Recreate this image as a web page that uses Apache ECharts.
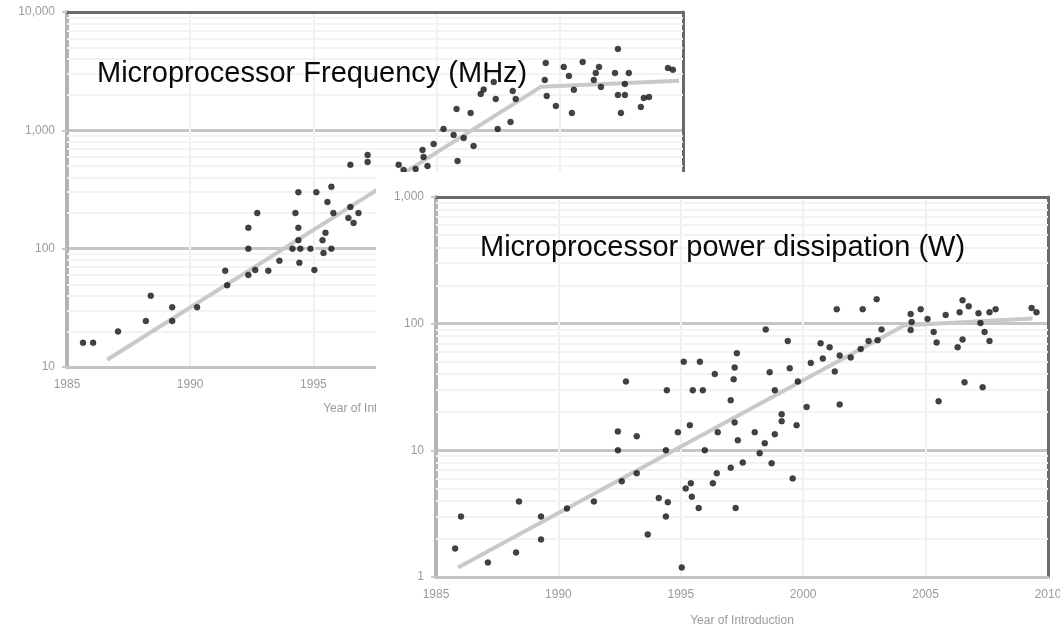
<!DOCTYPE html>
<html><head><meta charset="utf-8">
<script src="https://cdn.jsdelivr.net/npm/echarts@6/dist/echarts.min.js"></script>
<style>
html,body{margin:0;padding:0;background:#fff;overflow:hidden;}
#c1{position:absolute;left:0;top:0;width:1060px;height:627px;}
#c2{position:absolute;left:376px;top:172px;width:684px;height:455px;background:#fff;}
</style></head><body>
<div id="c1"></div><div id="c2"></div>
<script>
// ---------- data ----------
const freqTitle = 'Microprocessor Frequency (MHz)';
const powerTitle = 'Microprocessor power dissipation (W)';
const xAxisName = 'Year of Introduction';
const xTicks = [1985, 1990, 1995, 2000, 2005, 2010];

const freqYears = [1985.65,1986.06,1987.07,1988.2,1988.4,1989.27,1989.27,1990.28,1991.42,1991.5,
  1992.36,1992.36,1992.72,1992.36,1992.64,1993.17,1993.62,1994.39,1994.27,1994.39,
  1994.39,1994.15,1994.47,1994.43,1994.88,1995.12,1995.04,1995.49,1995.37,1995.41,
  1995.73,1995.57,1995.81,1995.73,1996.5,1996.42,1996.63,1996.83,1997.2,1997.2,
  1996.5,1998.46,1998.66,1999.15,1999.63,1999.47,1999.43,1999.88,2000.28,2000.69,
  2001.1,2000.85,2001.5,2000.81,2001.38,2001.79,2002.48,2003.0,2001.91,2002.32,
  2002.4,2003.09,2003.21,2004.43,2004.39,2004.47,2004.84,2005.16,2005.37,2005.57,
  2005.49,2005.93,2006.59,2006.46,2006.38,2006.67,2007.36,2007.24,2007.8,2007.64,
  2007.36,2007.64,2007.48,2008.41,2008.62,2008.29,2009.39,2009.59];
const freqMHz = [16,16,20,24.5,40,32,24.5,32,65,49,
  150,100,200,60,66,65,79,300,200,150,
  118,100,100,76,100,300,66,136,118,92,
  333,248,200,100,225,182,165,200,620,541,
  511,511,463,472,500,596,683,767,1028,914,
  863,551,738,1517,1403,2032,1028,1178,2218,2565,
  1841,2153,1841,3715,2666,1954,1607,3435,2885,2198,
  1403,3785,3435,3055,2666,2328,4875,3055,3055,2466,
  1991,1991,1403,1879,1915,1578,3367,3243];
const freqTrendYears = [1986.63, 2004.23, 2009.84];
const freqTrendMHz = [11.5, 2330, 2620];

const powerYears = [1985.78,1986.02,1987.12,1988.27,1988.39,1989.29,1989.29,1990.35,1991.45,1992.43,
  1992.43,1992.59,1992.76,1993.2,1993.2,1993.65,1994.1,1994.47,1994.39,1994.39,
  1994.43,1995.04,1995.37,1994.88,1995.98,1995.41,1995.2,1995.45,1995.73,1996.31,
  1996.47,1996.51,1998.47,1999.37,1997.29,1995.12,1995.78,1996.39,1997.2,1997.16,
  1998.63,1999.45,1995.49,1995.9,1997.04,1998.84,1999.78,1997.2,1999.12,1999.12,
  1999.73,1997.33,1998.02,1998.84,1998.43,1998.22,1998.71,1997.53,1997.04,1999.57,
  1997.24,2001.37,2002.43,2003.0,2000.71,2001.08,2003.2,2003.04,2002.67,2002.35,
  2001.94,2001.49,2000.8,2000.31,2001.29,2000.14,2001.49,2004.39,2004.8,2004.43,
  2005.08,2004.39,2005.82,2005.33,2005.45,2006.51,2006.76,2006.39,2007.16,2007.61,
  2007.86,2007.24,2007.41,2007.61,2006.51,2006.31,2006.59,2007.33,2005.53,2009.33,
  2009.53];
const powerW = [1.68,3.0,1.3,1.56,3.95,3.0,1.98,3.48,3.95,14.1,
  10,5.7,35,12.9,6.6,2.17,4.2,3.9,3.0,10,
  29.8,1.19,15.8,13.9,10,5.5,5.0,4.3,3.5,5.5,
  6.6,13.9,90,73,58.5,50,50,40,45,36.4,
  41.4,44.5,29.8,29.8,24.8,29.8,35,16.6,19.3,17,
  15.8,12,13.9,13.4,11.4,9.5,7.9,8.0,7.3,6.0,
  3.5,130,130,156,70,65,90,74,73,63,
  54,56,53,49,42,22,23,119,130,103,
  109,89,117,86,71,153,137,123,121,123,
  130,101,86,73,75,65,34.4,31.5,24.4,133,
  123];
const powerTrendYears = [1985.9, 2004.14, 2009.37];
const powerTrendW = [1.19, 97, 110];

// ---------- chart builder ----------
const FONT = '"Liberation Sans", Arial, sans-serif';
function pairs(xs, ys) { return xs.map((x, i) => [x, ys[i]]); }
function minorLines(minV, maxV) {
  const out = [];
  for (let d = minV; d < maxV; d *= 10) for (let k = 2; k <= 9; k++) out.push({ yAxis: d * k });
  return out;
}
function fmt(v) { return String(Math.round(v)).replace(/\B(?=(\d{3})+(?!\d))/g, ','); }

function makeOption(c) {
  const xMin = xTicks[0], xMax = xTicks[xTicks.length - 1];
  return {
    animation: false,
    backgroundColor: '#fff',
    title: {
      text: c.title, left: c.titleLeft, top: c.titleTop, padding: 0,
      textStyle: { fontFamily: FONT, fontSize: 29, fontWeight: 'normal', color: '#0a0a0a' }
    },
    grid: {
      left: c.grid.left, top: c.grid.top, width: c.grid.width, height: c.grid.height,
      show: false, containLabel: false, outerBoundsMode: 'none'
    },
    xAxis: [{
      type: 'value', min: xMin, max: xMax, interval: 5,
      name: xAxisName, nameLocation: 'middle', nameGap: c.nameGap,
      nameTextStyle: { fontFamily: FONT, fontSize: 12, color: '#9a9a9a' },
      axisLine: { show: true, onZero: false, lineStyle: { color: '#c4c4c4', width: 3 } },
      axisTick: { show: false },
      axisLabel: { fontFamily: FONT, fontSize: 12, color: '#9a9a9a', margin: 12,
        formatter: v => String(v), showMinLabel: true, showMaxLabel: true },
      splitLine: { show: true, showMinLine: false, showMaxLine: false,
        lineStyle: { color: '#f0f0f0', width: 2 } }
    }, {
      type: 'value', position: 'top', min: xMin, max: xMax, interval: 5,
      axisLine: { show: true, onZero: false, lineStyle: { color: '#6a6a6a', width: 3 } },
      axisTick: { show: false }, axisLabel: { show: false }, splitLine: { show: false }
    }],
    yAxis: [{
      type: 'log', logBase: 10, min: c.yMin, max: c.yMax,
      axisLine: { show: true, lineStyle: { color: '#b4b4b4', width: 4 } },
      axisTick: { show: true, length: 5, lineStyle: { color: '#c8c8c8', width: 2 } },
      axisLabel: { fontFamily: FONT, fontSize: 12, color: '#9a9a9a', margin: 12,
        formatter: fmt, showMinLabel: true, showMaxLabel: true },
      splitLine: { show: true, showMinLine: false, showMaxLine: false,
        lineStyle: { color: '#c6c6c6', width: 3 } }
    }, {
      type: 'log', logBase: 10, position: 'right', min: c.yMin, max: c.yMax,
      axisLine: { show: true, lineStyle: { color: '#6a6a6a', width: 3 } },
      axisTick: { show: false }, axisLabel: { show: false }, splitLine: { show: false }
    }],
    series: [
      {
        type: 'line', data: [], z: 1, silent: true,
        markLine: { z: 1, silent: true, symbol: 'none', label: { show: false },
          lineStyle: { color: '#f3f3f3', width: 2, type: 'solid' },
          emphasis: { disabled: true },
          data: minorLines(c.yMin, c.yMax) }
      },
      {
        type: 'line', data: c.trend, z: 3, showSymbol: false, symbol: 'none',
        lineStyle: { color: '#c9c9c9', width: 4 }
      },
      {
        type: 'scatter', data: c.points, z: 10, symbol: 'circle', symbolSize: 6,
        itemStyle: { color: '#141414', borderColor: 'rgba(0,0,0,0.35)', borderWidth: 1 }
      }
    ]
  };
}

const chart1 = echarts.init(document.getElementById('c1'), null, { renderer: 'canvas' });
chart1.setOption(makeOption({
  title: freqTitle, titleLeft: 97, titleTop: 59,
  grid: { left: 67, top: 12, width: 616, height: 355 },
  yMin: 10, yMax: 10000, nameGap: 36,
  points: pairs(freqYears, freqMHz),
  trend: pairs(freqTrendYears, freqTrendMHz)
}));

const chart2 = echarts.init(document.getElementById('c2'), null, { renderer: 'canvas' });
chart2.setOption(makeOption({
  title: powerTitle, titleLeft: 104, titleTop: 61,
  grid: { left: 60, top: 25, width: 612, height: 380 },
  yMin: 1, yMax: 1000, nameGap: 38,
  points: pairs(powerYears, powerW),
  trend: pairs(powerTrendYears, powerTrendW)
}));
</script>
</body></html>
